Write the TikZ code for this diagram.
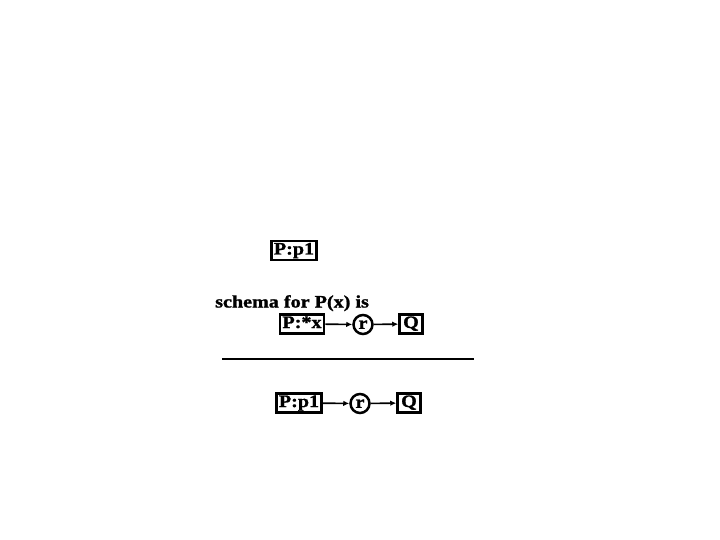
\documentclass[tikz,border=0pt]{standalone}
\usepackage{fontspec}
\setmainfont{Liberation Serif}[BoldFeatures={FakeBold=1.2}]
\usetikzlibrary{arrows.meta}
\newcommand{\widetxt}[1]{\scalebox{1.15}[1]{#1}}
\begin{document}
\begin{tikzpicture}[x=1pt,y=-1pt,
  lbl/.style={font=\fontsize{17.5}{19}\selectfont\bfseries},
  cbox/.style={lbl,draw,line width=2.5pt,inner xsep=2.5pt,inner ysep=1.5pt,text height=12pt,text depth=4pt},
  rel/.style={lbl,draw,circle,line width=2.5pt,inner sep=0pt,minimum size=19pt,text height=8.5pt,text depth=0pt},
  conn/.style={line width=1.6pt,-{Latex[length=6pt,width=5.5pt]}}]
\useasboundingbox (0,0) rectangle (720,540);
\node[cbox] (top) at (294,250.5) {\widetxt{P:p1}};
\node[lbl,anchor=base west,inner sep=0pt] (schema) at (215,307.5) {\widetxt{schema for P(x) is}};
\node[cbox] (px) at (302,324) {\widetxt{P:*x}};
\node[rel] (r1) at (363,324.5) {\widetxt{r}};
\node[cbox,minimum width=23pt] (q1) at (411,324) {\widetxt{Q}};
\coordinate (la) at (222,359);
\coordinate (lb) at (474,359);
\draw[line width=2.8pt] (la) -- (lb);
\node[cbox] (pp) at (299,403) {\widetxt{P:p1}};
\node[rel] (r2) at (360,403.5) {\widetxt{r}};
\node[cbox,minimum width=23pt] (q2) at (409,403) {\widetxt{Q}};
\draw[conn] (px) -- (r1);
\draw[conn] (r1) -- (q1);
\draw[conn] (pp) -- (r2);
\draw[conn] (r2) -- (q2);
\end{tikzpicture}
\end{document}
